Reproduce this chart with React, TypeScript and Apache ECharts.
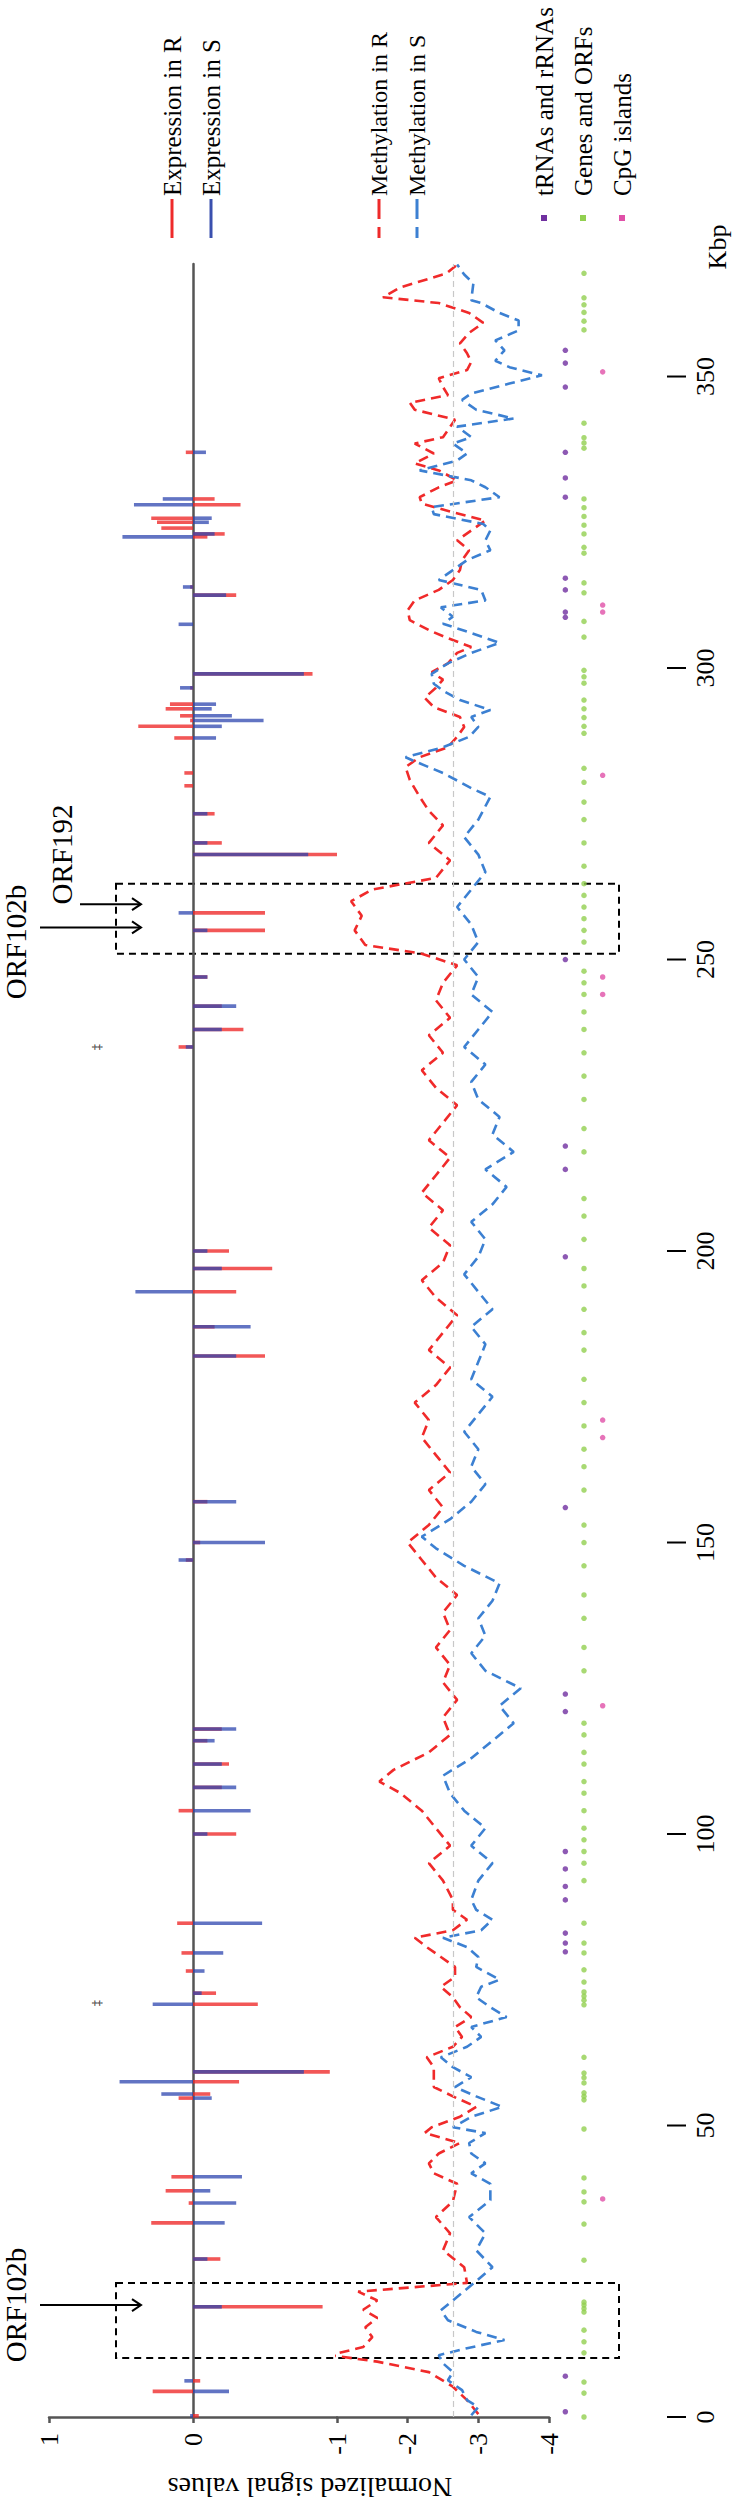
import React, { useEffect, useRef } from "react";
import * as echarts from "echarts";

const KBP_MAX = 369.3;
const kbpTicks = [0, 50, 100, 150, 200, 250, 300, 350];
const FONT = "Liberation Serif";

// Expression bars: [value, kbp]
const exprR: number[][] = [
  [-0.04, 0.2], [0.28, 4.4], [-0.05, 6.2], [-0.9, 18.9], [-0.19, 27.1], [0.29, 33.3], [0.03, 36.7],
  [0.19, 38.8], [0.15, 41.2], [0.1, 54.7], [-0.12, 55.4], [-0.32, 57.5], [-0.95, 59.2], [-0.45, 70.8],
  [-0.16, 72.7], [0.05, 76.5], [0.08, 79.6], [0.11, 84.7],
  [-0.3, 100], [0.1, 104], [-0.2, 108], [-0.25, 112], [-0.1, 116], [-0.2, 118], [0.05, 147], [-0.05, 150],
  [-0.1, 157], [-0.5, 182], [-0.15, 187], [-0.3, 193], [-0.55, 197], [-0.25, 200], [0.1, 235], [-0.35, 238],
  [-0.2, 242], [-0.1, 247], [-0.5, 255], [-0.5, 258], [-1.0, 268], [-0.2, 270], [-0.15, 275],
  [0.06, 279.8], [0.06, 282], [0.13, 288], [0.38, 290], [0.02, 291], [0.09, 291.8], [0.19, 293], [0.16, 293.8],
  [0.02, 296.6], [-0.83, 299], [-0.3, 312.5], [0.02, 313.9], [-0.1, 322.5], [-0.22, 323], [0.22, 324],
  [0.25, 325], [0.29, 325.7], [-0.33, 328], [-0.15, 329], [0.05, 337],
];
const exprS: number[][] = [
  [0.02, 0.2], [-0.25, 4.4], [0.06, 6.2], [-0.2, 18.9], [-0.1, 27.1], [-0.22, 33.3], [-0.3, 36.7],
  [-0.12, 38.8], [-0.34, 41.2], [-0.13, 54.7], [0.22, 55.4], [0.51, 57.5], [-0.77, 59.2], [0.28, 70.8],
  [-0.06, 72.7], [-0.08, 76.5], [-0.21, 79.6], [-0.48, 84.7],
  [-0.1, 100], [-0.4, 104], [-0.3, 108], [-0.2, 112], [-0.15, 116], [-0.3, 118], [0.1, 147], [-0.5, 150],
  [-0.3, 157], [-0.3, 182], [-0.4, 187], [0.4, 193], [-0.2, 197], [-0.1, 200], [0.05, 235], [-0.2, 238],
  [-0.3, 242], [-0.1, 247], [-0.1, 255], [0.1, 258], [-0.8, 268], [-0.1, 270], [-0.1, 275],
  [-0.16, 288], [-0.2, 290], [-0.49, 291], [-0.27, 291.8], [-0.13, 293], [-0.16, 293.8], [0.09, 296.6],
  [-0.77, 299], [0.1, 307.5], [-0.23, 312.5], [0.07, 313.9], [0.49, 322.5], [-0.15, 323], [-0.11, 325],
  [-0.13, 325.7], [0.41, 328], [0.21, 329], [-0.09, 337],
];

// Methylation: [value, kbp]
const methR: number[][] = [
  [-3.0, 0.5], [-2.84, 2.9], [-2.64, 5.2], [-2.3, 7.7], [-1.57, 9.5], [-0.9, 10.6], [-1.37, 12], [-1.5, 13.7],
  [-1.4, 15.4], [-1.57, 17], [-1.37, 18.4], [-1.57, 20], [-1.3, 21.5], [-2.84, 23], [-2.8, 25.7], [-2.5, 28.6],
  [-2.6, 31.5], [-2.4, 34.3], [-2.64, 37], [-2.7, 40], [-2.37, 41.8], [-2.3, 43.5], [-2.44, 45.2], [-2.74, 47],
  [-2.24, 48.7], [-2.34, 49.7], [-2.74, 51.5], [-2.97, 53.2], [-2.64, 55], [-2.37, 56.6], [-2.37, 58.3],
  [-2.37, 60], [-2.27, 61.7], [-2.64, 63.5], [-2.77, 65.2], [-2.67, 66.9], [-2.9, 68.6], [-2.74, 70.3],
  [-2.64, 72], [-2.47, 73.8], [-2.67, 75.5], [-2.67, 77.2], [-2.47, 78.9], [-2.27, 80.6], [-2.1, 82.2],
  [-2.64, 83.5], [-2.84, 85.3], [-2.64, 87], [-2.64, 88.7],
  [-2.5, 92], [-2.3, 95], [-2.6, 98], [-2.4, 101], [-2.2, 104], [-1.9, 107], [-1.6, 109], [-1.8, 111],
  [-2.3, 114], [-2.6, 117], [-2.5, 120], [-2.7, 123], [-2.5, 126], [-2.6, 129], [-2.4, 132], [-2.6, 135],
  [-2.5, 138], [-2.7, 141], [-2.4, 144], [-2.2, 147], [-2.0, 150], [-2.3, 153], [-2.5, 156], [-2.3, 159],
  [-2.6, 162], [-2.4, 165], [-2.2, 168], [-2.3, 171], [-2.1, 174], [-2.4, 177], [-2.6, 180], [-2.3, 183],
  [-2.5, 186], [-2.7, 189], [-2.4, 192], [-2.2, 195], [-2.5, 198], [-2.6, 201], [-2.3, 204], [-2.5, 207],
  [-2.2, 210], [-2.4, 213], [-2.6, 216], [-2.3, 219], [-2.5, 222], [-2.7, 225], [-2.4, 228], [-2.2, 231],
  [-2.5, 234], [-2.3, 237], [-2.6, 240], [-2.4, 243], [-2.5, 246], [-2.7, 249], [-2.2, 251], [-1.4, 252.5],
  [-1.25, 255], [-1.35, 257.5], [-1.2, 260], [-1.5, 262], [-2.4, 264], [-2.6, 267], [-2.3, 270], [-2.5, 273],
  [-2.3, 275.5], [-2.17, 277.9], [-2.03, 280.8], [-1.97, 283], [-2.17, 284.7], [-2.57, 286.4], [-2.7, 288.2],
  [-2.8, 289.9], [-2.74, 291.6], [-2.37, 293.3], [-2.24, 294.9], [-2.4, 296.6], [-2.5, 298], [-2.34, 299.3],
  [-2.57, 300.8], [-2.7, 302.6], [-2.9, 303.6], [-2.53, 305.3], [-2.3, 306.5], [-2.03, 308.2], [-2.0, 309.9],
  [-2.1, 311.6], [-2.44, 313.4], [-2.64, 315.1], [-2.74, 316.8], [-2.77, 318.5], [-2.87, 320.2], [-2.7, 321.9],
  [-2.9, 323.6], [-3.1, 325.3], [-2.64, 326.7], [-2.2, 328.2], [-2.17, 329.3], [-2.44, 331], [-2.7, 332.2],
  [-2.44, 333.9], [-2.1, 335.1], [-2.37, 336.8], [-2.1, 338.5], [-2.5, 339.6], [-2.57, 340.8], [-2.67, 342.6],
  [-2.1, 344.3], [-2.03, 345.5], [-2.57, 346.8], [-2.5, 348.2], [-2.44, 349.7], [-2.84, 351.1], [-2.9, 352.5],
  [-2.84, 354], [-2.74, 355.7], [-2.87, 357.5], [-3.07, 359.2], [-2.87, 360.9], [-2.44, 362.6], [-1.65, 363.6],
  [-1.9, 365.3], [-2.55, 367.7], [-2.7, 369.2],
];
const methS: number[][] = [
  [-2.9, 0.3], [-3.0, 1.7], [-2.84, 2.9], [-2.77, 4.6], [-2.57, 6.3], [-2.64, 7.7], [-2.5, 9.2], [-2.44, 10.6],
  [-2.84, 11.8], [-3.37, 13.2], [-2.97, 14.6], [-2.57, 16.6], [-2.47, 18.3], [-2.64, 20], [-2.94, 23],
  [-3.2, 25.7], [-2.97, 28.6], [-3.1, 31.5], [-2.87, 34.3], [-3.17, 37.2], [-3.17, 40], [-2.9, 41.8],
  [-3.1, 43.5], [-2.9, 45.2], [-2.87, 47], [-3.1, 48.7], [-2.64, 49.7], [-2.9, 51.5], [-3.34, 53.2],
  [-2.97, 55], [-2.67, 56.6], [-2.9, 58.3], [-2.64, 60], [-2.47, 61.7], [-2.84, 63.5], [-3.04, 65.2],
  [-2.9, 66.9], [-3.4, 68.6], [-3.17, 70.3], [-2.97, 72], [-3.04, 73.8], [-3.3, 75], [-2.97, 77.2],
  [-3.0, 78.9], [-2.84, 80.6], [-2.5, 82.2], [-3.04, 83.5], [-3.2, 85.3], [-2.97, 87], [-2.9, 88.7],
  [-3.0, 92], [-3.2, 95], [-2.9, 98], [-3.1, 101], [-2.8, 104], [-2.6, 107], [-2.5, 110], [-2.9, 113],
  [-3.2, 116], [-3.5, 119], [-3.3, 122], [-3.6, 125], [-3.1, 128], [-2.9, 131], [-3.1, 134], [-3.0, 137],
  [-3.2, 140], [-3.3, 143], [-2.8, 146], [-2.4, 149], [-2.2, 151], [-2.6, 154], [-2.9, 157], [-3.1, 160],
  [-2.9, 163], [-3.0, 166], [-2.8, 169], [-3.0, 172], [-3.2, 175], [-2.9, 178], [-3.0, 181], [-3.1, 184],
  [-2.9, 187], [-3.2, 190], [-3.0, 193], [-2.8, 196], [-3.0, 199], [-3.1, 202], [-2.9, 205], [-3.2, 208],
  [-3.4, 211], [-3.1, 214], [-3.5, 217], [-3.2, 220], [-3.3, 223], [-3.0, 226], [-2.9, 229], [-3.1, 232],
  [-2.8, 235], [-3.0, 238], [-3.2, 241], [-2.9, 244], [-3.0, 247], [-2.8, 250], [-3.0, 253], [-2.9, 256],
  [-2.7, 259], [-2.9, 262], [-3.1, 265], [-3.0, 268], [-2.8, 271], [-3.0, 274], [-3.17, 277.9], [-2.9, 279.4],
  [-2.5, 282], [-2.1, 284], [-1.97, 284.7], [-2.5, 286.4], [-2.87, 288.2], [-3.0, 289.9], [-2.9, 291.6],
  [-3.17, 292.8], [-2.74, 294.5], [-2.5, 296.1], [-2.37, 297.3], [-2.34, 299], [-2.57, 300.8], [-2.9, 302.6],
  [-3.3, 304.3], [-2.9, 306], [-2.5, 307.6], [-2.64, 308.8], [-2.47, 310.4], [-3.1, 311.6], [-3.04, 313.4],
  [-2.44, 315.1], [-2.64, 316.8], [-2.84, 318.5], [-3.17, 320.2], [-3.1, 321.9], [-3.17, 323.6], [-3.07, 324.7],
  [-2.37, 326.4], [-2.34, 327.6], [-3.3, 329.3], [-3.1, 331], [-2.9, 332.2], [-2.17, 333.9], [-2.7, 335.6],
  [-2.84, 336.8], [-2.64, 338.5], [-2.9, 339.6], [-2.7, 341.4], [-3.5, 342.8], [-2.97, 344.3], [-2.77, 346],
  [-2.9, 347.1], [-3.44, 348.8], [-3.9, 350.2], [-3.44, 351.6], [-3.24, 352.7], [-3.37, 354.5], [-3.24, 356.2],
  [-3.57, 357.9], [-3.57, 359.6], [-3.3, 360.9], [-3.04, 362.6], [-2.9, 363.1], [-2.93, 366], [-2.8, 367.5],
  [-2.7, 369.2],
];

// Annotation tracks (kbp positions)
const tRNAs: number[] = [
  0.9, 7.0, 79.8, 81.3, 83, 88.7, 91, 94, 97, 121, 124, 156, 199, 214, 218, 250,
  308.7, 309.6, 313.4, 315.4, 329.3, 332.6, 337, 348.2, 352.3, 354.5,
];
const genes: number[] = [
  0, 4.1, 6.0, 11.0, 12.9, 14.9, 18.0, 18.6, 19.2, 19.7, 26.9, 33.1, 36.9, 38.6, 41.0, 49.4, 54.4, 55.0, 55.6,
  57.3, 58.2, 59.0, 61.7, 70.7, 71.5, 72.2, 72.9, 74.6, 76.7, 79.6, 81.3, 84.7,
  92, 95, 97, 99, 101, 104, 107, 109, 112, 114, 117, 119, 128, 132, 137, 141, 146, 150, 153, 159, 163, 166,
  170, 174, 178, 183, 186, 190, 194, 197, 202, 206, 209, 217, 221, 226, 230, 234, 238, 241, 244, 246, 248,
  253, 255, 257, 259, 261, 263, 266, 270, 274, 277,
  280.4, 282.8, 288.8, 290.0, 291.5, 293.0, 294.5, 297.4, 298.5, 299.6, 305.3, 308, 312.9, 314.6, 319.7, 320.7,
  323, 324.5, 326, 327.5, 329, 337.7, 338.6, 339.5, 342, 358, 359.5, 361, 362.3, 363.5, 367.7,
];
const cpg: number[] = [37.4, 122, 168, 171, 244, 247, 281.6, 309.6, 310.8, 350.8];

export default function App() {
  const ref = useRef<HTMLDivElement>(null);
  useEffect(() => {
    if (!ref.current) return;
    const chart = echarts.init(ref.current, undefined, { renderer: "svg" });
    const top = 264;
    const height = 2417 - top;
    const barItem = (color: string) => (params: any, api: any) => {
      const v = api.value(0);
      const k = api.value(1);
      const p0 = api.coord([0, k]);
      const p1 = api.coord([v, k]);
      return {
        type: "rect",
        shape: { x: Math.min(p0[0], p1[0]), y: p0[1] - 1.8, width: Math.abs(p1[0] - p0[0]), height: 3.6 },
        style: { fill: color },
      };
    };
    const labelStyle = { fontFamily: FONT, fontSize: 26, color: "#000" };
    const dot = (arr: number[], xv: number, color: string, name: string) => ({
      name,
      type: "scatter",
      xAxisIndex: 2,
      yAxisIndex: 2,
      symbol: "circle",
      symbolSize: 5.5,
      itemStyle: { color },
      data: arr.map((k) => [xv, k]),
    });
    chart.setOption({
      animation: false,
      backgroundColor: "#fff",
      grid: [
        { left: 49, top, width: 288, height },
        { left: 337, top, width: 212, height },
        { left: 556, top, width: 56, height },
      ],
      xAxis: [
        {
          gridIndex: 0, type: "value", min: -1, max: 1, interval: 1, inverse: true, position: "bottom",
          axisLine: { show: true, onZero: false, lineStyle: { color: "#555", width: 2.5 } },
          axisTick: { show: true, length: 6, lineStyle: { color: "#555", width: 2.5 } },
          axisLabel: { ...labelStyle, rotate: 90, margin: 16, showMinLabel: false },
          splitLine: { show: false },
        },
        {
          gridIndex: 1, type: "value", min: -4, max: -1, interval: 1, inverse: true, position: "bottom",
          axisLine: { show: true, onZero: false, lineStyle: { color: "#555", width: 2.5 } },
          axisTick: { show: true, length: 6, lineStyle: { color: "#555", width: 2.5 } },
          axisLabel: { ...labelStyle, rotate: 90, margin: 16 },
          splitLine: { show: false },
        },
        { gridIndex: 2, type: "value", min: 0, max: 3, show: false },
      ],
      yAxis: [
        {
          gridIndex: 0, type: "value", min: 0, max: KBP_MAX,
          axisLine: { show: true, onZero: true, lineStyle: { color: "#555", width: 2.5 } },
          axisTick: { show: false }, axisLabel: { show: false }, splitLine: { show: false },
        },
        { gridIndex: 1, type: "value", min: 0, max: KBP_MAX, show: false },
        {
          gridIndex: 2, type: "value", min: 0, max: KBP_MAX, position: "right", offset: 55,
          axisLine: { show: false },
          axisTick: { show: false },
          axisLabel: { ...labelStyle, rotate: 90, margin: 25, customValues: kbpTicks },
          splitLine: { show: false },
        },
      ],
      series: [
        {
          name: "Expression in R", type: "custom", xAxisIndex: 0, yAxisIndex: 0,
          renderItem: barItem("rgba(238,40,40,0.78)"), encode: { x: 0, y: 1 }, data: exprR,
        },
        {
          name: "Expression in S", type: "custom", xAxisIndex: 0, yAxisIndex: 0,
          renderItem: barItem("rgba(45,70,175,0.75)"), encode: { x: 0, y: 1 }, data: exprS,
        },
        {
          name: "Methylation in R", type: "line", xAxisIndex: 1, yAxisIndex: 1, symbol: "none", clip: false,
          lineStyle: { color: "#f02a2a", width: 2.6, type: [10, 6] }, data: methR,
          markLine: {
            silent: true, symbol: "none", label: { show: false },
            lineStyle: { color: "#c8c8c8", width: 1.2, type: [6, 4] },
            data: [{ xAxis: -2.65 }],
          },
        },
        {
          name: "Methylation in S", type: "line", xAxisIndex: 1, yAxisIndex: 1, symbol: "none", clip: false,
          lineStyle: { color: "#3c80d2", width: 2.6, type: [10, 6] }, data: methS,
        },
        dot(tRNAs, 0.5, "#7030a0", "tRNAs and rRNAs"),
        dot(genes, 1.5, "#92d050", "Genes and ORFs"),
        dot(cpg, 2.5, "#e050a8", "CpG islands"),
      ],
    });

    const y = (k: number) => chart.convertToPixel({ yAxisIndex: 0 }, k) as number;
    const vtext = (text: string, x: number, yy: number, size: number, align = "left", rot = Math.PI / 2) => ({
      type: "text", x, y: yy, rotation: rot,
      style: {
        text, fontFamily: FONT, fontSize: size, fill: "#000",
        align, textAlign: align, verticalAlign: "middle", textVerticalAlign: "middle",
      },
    });
    const legLine = (x: number, color: string, dash: number[] | null) => ({
      type: "line", shape: { x1: x, y1: 199, x2: x, y2: 238 },
      style: { stroke: color, lineWidth: 3, lineDash: dash || undefined },
    });
    const box = (k0: number, k1: number) => ({
      type: "rect",
      shape: { x: 116, y: y(k1), width: 503, height: y(k0) - y(k1) },
      style: { fill: "none", stroke: "#000", lineWidth: 2, lineDash: [7, 5] },
    });
    const arrow = (k: number, x0: number) => {
      const yy = y(k);
      return [
        { type: "line", shape: { x1: x0, y1: yy, x2: 141, y2: yy }, style: { stroke: "#000", lineWidth: 2 } },
        {
          type: "polyline", shape: { points: [[132, yy - 6], [141, yy], [132, yy + 6]] },
          style: { stroke: "#000", lineWidth: 2, fill: "none" },
        },
      ];
    };
    const kbpTickMarks = kbpTicks.map((k) => ({
      type: "line", shape: { x1: 667, y1: y(k), x2: 686, y2: y(k) }, style: { stroke: "#000", lineWidth: 2 },
    }));
    chart.setOption({
      graphic: [
        ...kbpTickMarks,
        legLine(172, "#ee2a2a", null),
        legLine(211, "#3a50ae", null),
        legLine(379, "#ee2a2a", [20, 8]),
        legLine(417, "#3c80d2", [20, 8]),
        vtext("Expression in R", 172, 196, 25),
        vtext("Expression in S", 211, 196, 25),
        vtext("Methylation in R", 379, 196, 24),
        vtext("Methylation in S", 417, 196, 24),
        vtext("tRNAs and rRNAs", 544, 196, 25),
        vtext("Genes and ORFs", 583, 196, 25),
        vtext("CpG islands", 622, 196, 25),
        { type: "rect", shape: { x: 541, y: 215, width: 6, height: 6 }, style: { fill: "#7030a0" } },
        { type: "rect", shape: { x: 580, y: 215, width: 6, height: 6 }, style: { fill: "#92d050" } },
        { type: "rect", shape: { x: 619, y: 215, width: 6, height: 6 }, style: { fill: "#e050a8" } },
        vtext("Kbp", 717, 247, 26, "center"),
        vtext("Normalized signal values", 310, 2487, 28, "center", Math.PI),
        box(10.1, 23),
        box(251, 263),
        ...arrow(19.2, 40),
        ...arrow(255.5, 40),
        ...arrow(259.5, 80),
        vtext("ORF102b", 16, y(19.2), 29, "center"),
        vtext("ORF102b", 16, y(253), 29, "center"),
        vtext("ORF192", 62, y(268), 29, "center"),
        vtext("‡", 97, y(71), 12, "center"),
        vtext("‡", 97, y(235), 12, "center"),
      ],
    });
    return () => chart.dispose();
  }, []);
  return <div ref={ref} style={{ position: "absolute", left: 0, top: 0, width: 734, height: 2501 }} />;
}
